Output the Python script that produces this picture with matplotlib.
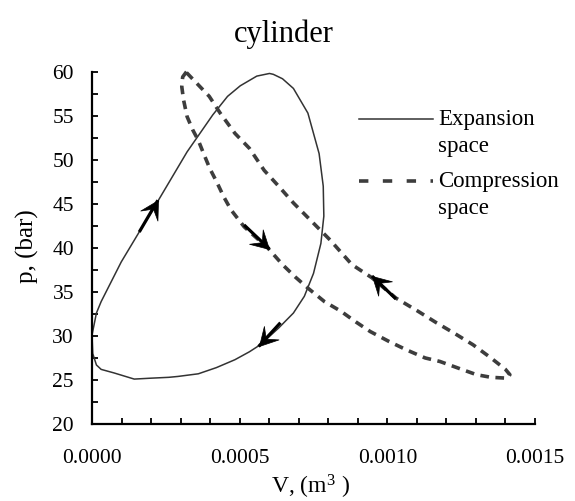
import math
import matplotlib
matplotlib.use("Agg")
import matplotlib.pyplot as plt
from matplotlib.ticker import MultipleLocator, FormatStrFormatter
from matplotlib.lines import Line2D
from matplotlib.path import Path
from matplotlib.markers import MarkerStyle
from matplotlib.transforms import Affine2D

plt.rcParams["font.family"] = ["Liberation Serif", "DejaVu Serif"]
plt.rcParams["mathtext.fontset"] = "custom"
plt.rcParams["mathtext.rm"] = "Liberation Serif"
plt.rcParams["mathtext.it"] = "Liberation Serif:italic"

# p-V loop of the expansion space (clockwise)
exp_V = [0.0, 0.000015, 0.000031, 0.000099, 0.000167, 0.000223, 0.000322,
         0.000409, 0.000459, 0.000502, 0.000558, 0.000601, 0.000614, 0.000645,
         0.000682, 0.000731, 0.000769, 0.000783, 0.000785, 0.000775, 0.000750,
         0.000719, 0.000682, 0.000632, 0.000570, 0.000533, 0.000484, 0.000421,
         0.000360, 0.000291, 0.000260, 0.000198, 0.000143, 0.0000744, 0.000031,
         0.000015, 0.0000025, 0.0]
exp_p = [30.1, 32.6, 33.9, 38.4, 42.2, 45.3, 50.9, 55.1, 57.2, 58.4, 59.5,
         59.8, 59.7, 59.2, 58.1, 55.3, 50.7, 47.0, 43.6, 40.5, 37.1, 34.5, 32.6,
         30.9, 29.0, 28.2, 27.3, 26.4, 25.7, 25.4, 25.3, 25.2, 25.1, 25.8, 26.2,
         26.7, 28.0, 30.1]

# p-V loop of the compression space (counter-clockwise)
comp_V = [0.000320, 0.000307, 0.000304, 0.000310, 0.000322, 0.000341, 0.000360,
          0.000378, 0.000399, 0.000422, 0.000446, 0.000471, 0.000515, 0.000558,
          0.000595, 0.000645, 0.000688, 0.000732, 0.000787, 0.000843, 0.000893,
          0.000942, 0.001004, 0.001066, 0.001128, 0.001178, 0.001252, 0.001302,
          0.001351, 0.001407, 0.001415, 0.001400, 0.001351, 0.001290, 0.001227,
          0.001166, 0.001104, 0.001029, 0.000948, 0.000880, 0.000806, 0.000744,
          0.000682, 0.000632, 0.000583, 0.000533, 0.000484, 0.000434, 0.000397,
          0.000360, 0.000320]
comp_p = [60.0, 59.4, 58.3, 56.8, 54.9, 53.4, 52.2, 50.7, 49.0, 47.5, 45.8,
          44.3, 42.4, 41.1, 40.0, 38.1, 36.7, 35.4, 33.9, 32.8, 31.6, 30.5,
          29.4, 28.4, 27.5, 27.1, 26.2, 25.6, 25.3, 25.2, 25.6, 26.2, 27.5,
          29.0, 30.3, 31.5, 32.8, 34.3, 36.6, 38.1, 40.9, 43.0, 45.1, 47.0,
          48.8, 51.3, 53.0, 55.3, 57.2, 58.5, 59.9]

series_labels = ["Expansion\nspace", "Compression\nspace"]
title_text = "cylinder"
x_label = "V, (m$^3$ )"
y_label = "p, (bar)"
x_ticks = [0.0, 0.0005, 0.0010, 0.0015]
y_ticks = [20, 25, 30, 35, 40, 45, 50, 55, 60]

# direction-of-travel arrows: (tail, head) in data units
exp_arrows = [((0.000160, 41.8), (0.000223, 45.4)),
              ((0.000638, 31.5), (0.000564, 28.8))]
comp_arrows = [((0.000515, 42.6), (0.000600, 39.9)),
               ((0.001029, 34.2), (0.000948, 36.8))]

W, H = 575, 501
fig = plt.figure(figsize=(W / 100, H / 100), dpi=100)
ax = fig.add_axes([92 / W, 1 - 424 / H, 443 / W, 352.3 / H])

exp_color = "#333333"
comp_color = "#3d3d3d"
comp_dash = (0, (2.4, 1.8))
ax.plot(exp_V, exp_p, color=exp_color, lw=1.1, clip_on=False,
        solid_joinstyle="round")
ax.plot(comp_V, comp_p, color=comp_color, lw=2.6, clip_on=False,
        linestyle=comp_dash, dash_capstyle="butt")

ax.set_xlim(x_ticks[0], x_ticks[-1])
ax.set_ylim(y_ticks[0], y_ticks[-1])
ax.set_xticks(x_ticks)
ax.set_yticks(y_ticks)
ax.xaxis.set_minor_locator(MultipleLocator(0.0001))
ax.yaxis.set_minor_locator(MultipleLocator(2.5))
ax.xaxis.set_major_formatter(FormatStrFormatter("%.4f"))

# stealth-style arrow heads, tip at the origin
head_path = Path([(0.0, 0.0), (-1.0, 0.55), (-0.55, 0.0), (-1.0, -0.55), (0.0, 0.0)],
                 [Path.MOVETO, Path.LINETO, Path.LINETO, Path.LINETO,
                  Path.CLOSEPOLY])
for tail, head in exp_arrows + comp_arrows:
    ax.plot([tail[0], head[0]], [tail[1], head[1]], color="black", lw=2.3,
            solid_capstyle="butt", clip_on=False, zorder=4)
    (x0, y0), (x1, y1) = ax.transData.transform([tail, head])
    ang = math.degrees(math.atan2(y1 - y0, x1 - x0))
    mk = MarkerStyle(head_path, transform=Affine2D().rotate_deg(ang))
    ax.plot([head[0]], [head[1]], marker=mk, markersize=26, color="black",
            markeredgewidth=0.5, linestyle="none", clip_on=False, zorder=5)

for side in ("top", "right"):
    ax.spines[side].set_visible(False)
for side in ("left", "bottom"):
    ax.spines[side].set_linewidth(1.6)
    ax.spines[side].set_color("black")

ax.tick_params(which="both", direction="in", length=4, width=1.3, color="black")
ax.tick_params(axis="y", which="major", labelsize=15.5, pad=13)
ax.tick_params(axis="x", which="major", labelsize=15.5, pad=18)

ax.set_xlabel(x_label, fontsize=17, va="baseline")
ax.xaxis.set_label_coords(0.492, -0.198)
ax.set_ylabel(y_label, fontsize=18, va="center")
ax.yaxis.set_label_coords(-0.145, 0.505)

fig.text(0.493, 1 - 42 / H, title_text, fontsize=22, ha="center",
         va="baseline")

# key: sample line beside the first line of each two-line label
key_x0, key_x1, key_tx = 359 / W, 433 / W, 438 / W
key_rows = [119 / H, 181 / H]
key_styles = [dict(color=exp_color, lw=1.1),
              dict(color=comp_color, lw=2.6, linestyle=(0, (2.6, 4.0)))]
for yrow, label, style in zip(key_rows, series_labels, key_styles):
    yy = 1 - yrow
    fig.add_artist(Line2D([key_x0, key_x1], [yy, yy],
                          transform=fig.transFigure, **style))
    fig.text(key_tx, yy - 33 / H, label, fontsize=16.5, ha="left",
             va="baseline", linespacing=1.35)

fig.savefig("out.png", dpi=100)
